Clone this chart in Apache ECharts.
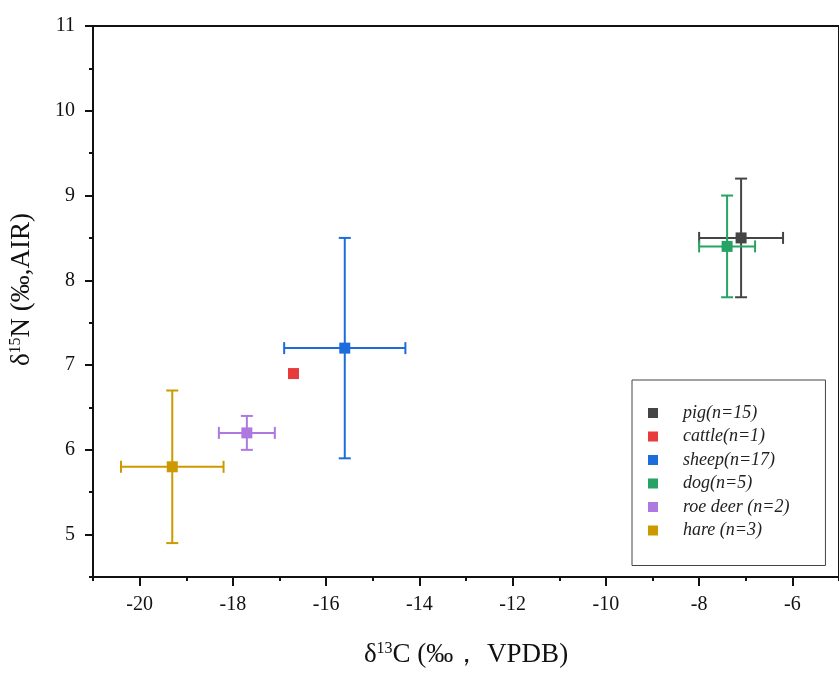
<!DOCTYPE html>
<html>
<head>
<meta charset="utf-8">
<script src="https://cdn.jsdelivr.net/npm/echarts@6/dist/echarts.min.js"></script>
<style>
  html, body { margin: 0; padding: 0; background: #fff; }
</style>
</head>
<body>
<div id="main" style="width: 839px;height:673px;"></div>
<script>
// species groups and mean / sd values
const groups = ['pig(n=15)', 'cattle(n=1)', 'sheep(n=17)', 'dog(n=5)', 'roe deer (n=2)', 'hare (n=3)'];
const d13C = [-7.1, -16.7, -15.6, -7.4, -17.7, -19.3];
const d15N = [8.5, 6.9, 7.2, 8.4, 6.2, 5.8];
const sdC = [0.9, 0, 1.3, 0.6, 0.6, 1.1];
const sdN = [0.7, 0, 1.3, 0.6, 0.2, 0.9];
const colors = ['#454545', '#e83b3b', '#1c6cdc', '#27a363', '#ad78e0', '#cc9900'];

// tick labels
const xTicks = [-20, -18, -16, -14, -12, -10, -8, -6];
const xMinorTicks = [-21, -19, -17, -15, -13, -11, -9, -7, -5];
const yTicks = [5, 6, 7, 8, 9, 10, 11];
const yMinorTicks = [4.5, 5.5, 6.5, 7.5, 8.5, 9.5, 10.5];

const serif = 'Liberation Serif, Times New Roman, serif';

var myChart = echarts.init(document.getElementById('main'));

// 误差棒
function renderErrorBar(params, api) {
  var x = api.value(0), y = api.value(1), ex = api.value(2), ey = api.value(3);
  var l = api.coord([x - ex, y]);
  var r = api.coord([x + ex, y]);
  var t = api.coord([x, y + ey]);
  var b = api.coord([x, y - ey]);
  var cap = 6;
  var style = {stroke: api.visual('color'), lineWidth: 2};
  var seg = function (x1, y1, x2, y2) {
    return {type: 'line', shape: {x1: x1, y1: y1, x2: x2, y2: y2}, style: style};
  };
  return {
    type: 'group',
    children: [
      seg(l[0], l[1], r[0], r[1]),
      seg(l[0], l[1] - cap, l[0], l[1] + cap),
      seg(r[0], r[1] - cap, r[0], r[1] + cap),
      seg(t[0], t[1], b[0], b[1]),
      seg(t[0] - cap, t[1], t[0] + cap, t[1]),
      seg(b[0] - cap, b[1], b[0] + cap, b[1])
    ]
  };
}

var series = [];
groups.forEach(function (name, i) {
  series.push({
    name: name,
    type: 'scatter',
    symbol: 'rect',
    symbolSize: 11,
    z: 3,
    itemStyle: {color: colors[i], opacity: 1},
    data: [[d13C[i], d15N[i]]]
  });
});
groups.forEach(function (name, i) {
  if (sdC[i] === 0 && sdN[i] === 0) return;
  series.push({
    name: name,
    type: 'custom',
    z: 2,
    itemStyle: {color: colors[i]},
    renderItem: renderErrorBar,
    data: [[d13C[i], d15N[i], sdC[i], sdN[i]]]
  });
});

var axisText = {fontFamily: serif, fontSize: 20, color: '#111'};
var titleRich = {
  t: {fontFamily: serif, fontSize: 27, color: '#111'},
  s: {fontFamily: serif, fontSize: 16, color: '#111', verticalAlign: 'top', padding: [0, 0, 11, 0]}
};

var option = {
  animation: false,
  grid: {
    left: 93,
    right: -9,
    top: 26,
    bottom: 88,
    show: true,
    borderColor: '#111',
    borderWidth: 2
  },
  legend: {
    orient: 'vertical',
    left: 632,
    top: 380,
    data: groups,
    icon: 'rect',
    itemWidth: 10,
    itemHeight: 10,
    itemGap: 5.5,
    padding: [24, 36, 26, 16],
    borderColor: '#444',
    borderWidth: 1,
    textStyle: {
      fontFamily: serif,
      fontStyle: 'italic',
      fontSize: 18,
      lineHeight: 18,
      color: '#222',
      padding: [0, 0, 0, 20]
    }
  },
  xAxis: [{
    type: 'value',
    min: -21,
    max: -5,
    splitLine: {show: false},
    axisLine: {onZero: false, lineStyle: {color: '#111', width: 2}},
    axisTick: {customValues: xTicks, length: 9, lineStyle: {color: '#111', width: 2}},
    axisLabel: Object.assign({customValues: xTicks, margin: 18}, axisText),
    name: '{t|δ}{s|13}{t|C (‰， VPDB)}',
    nameLocation: 'middle',
    nameGap: 64,
    nameTextStyle: {rich: titleRich}
  }, {
    // 次刻度
    type: 'value',
    position: 'bottom',
    min: -21,
    max: -5,
    splitLine: {show: false},
    axisLine: {show: false, onZero: false},
    axisTick: {customValues: xMinorTicks, length: 4, lineStyle: {color: '#111', width: 2}},
    axisLabel: {show: false}
  }],
  yAxis: [{
    type: 'value',
    min: 4.5,
    max: 11,
    splitLine: {show: false},
    axisLine: {onZero: false, lineStyle: {color: '#111', width: 2}},
    axisTick: {customValues: yTicks, length: 8, lineStyle: {color: '#111', width: 2}},
    axisLabel: Object.assign({customValues: yTicks, margin: 18}, axisText),
    name: '{t|δ}{s|15}{t|N (‰,AIR)}',
    nameLocation: 'middle',
    nameGap: 58,
    nameTextStyle: {rich: titleRich, padding: [0, 0, 0, 24]}
  }, {
    type: 'value',
    position: 'left',
    min: 4.5,
    max: 11,
    splitLine: {show: false},
    axisLine: {show: false, onZero: false},
    axisTick: {customValues: yMinorTicks, length: 4, lineStyle: {color: '#111', width: 2}},
    axisLabel: {show: false}
  }],
  series: series
};

myChart.setOption(option);
</script>
</body>
</html>
